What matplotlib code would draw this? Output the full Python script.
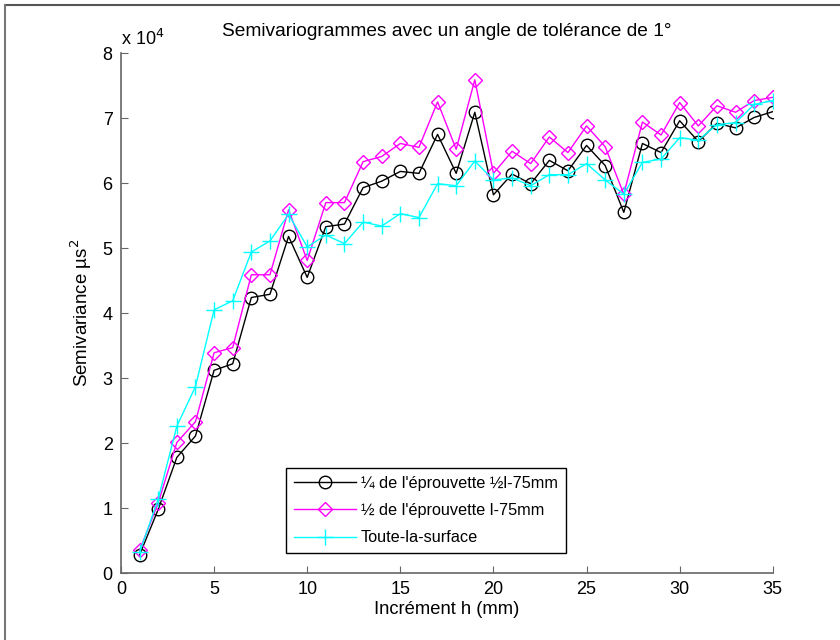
import numpy as np
import matplotlib
matplotlib.use("Agg")
import matplotlib.pyplot as plt
from matplotlib.lines import Line2D

plt.rcParams['font.family'] = ['Liberation Sans', 'DejaVu Sans']

# lag h (mm)
h = np.arange(1, 36)

# semivariance, in units of 1e4
quart = [0.28, 0.98, 1.78, 2.11, 3.12, 3.22, 4.24, 4.29, 5.18, 4.55,
         5.33, 5.37, 5.93, 6.03, 6.18, 6.15, 6.75, 6.15, 7.09, 5.82,
         6.14, 5.99, 6.35, 6.19, 6.58, 6.27, 5.55, 6.61, 6.47, 6.96,
         6.64, 6.92, 6.85, 7.01, 7.10]
demi = [0.35, 1.08, 2.01, 2.33, 3.39, 3.47, 4.59, 4.59, 5.59, 4.81,
        5.70, 5.70, 6.33, 6.41, 6.61, 6.55, 7.25, 6.52, 7.59, 6.15,
        6.49, 6.30, 6.71, 6.47, 6.88, 6.56, 5.83, 6.94, 6.74, 7.24,
        6.88, 7.19, 7.09, 7.27, 7.32]
surface = [0.32, 1.14, 2.26, 2.87, 4.05, 4.19, 4.94, 5.11, 5.52, 5.02,
           5.20, 5.07, 5.40, 5.34, 5.53, 5.47, 5.99, 5.96, 6.34, 6.05,
           6.08, 5.96, 6.13, 6.13, 6.30, 6.05, 5.83, 6.32, 6.37, 6.70,
           6.66, 6.90, 6.93, 7.21, 7.27]

labels = ["\u00bc de l'\u00e9prouvette \u00bdl-75mm",
          "\u00bd de l'\u00e9prouvette l-75mm",
          "Toute-la-surface"]

fig = plt.figure(figsize=(8.4, 6.4), dpi=100)
ax = fig.add_axes([0.144, 0.1045, 0.776, 0.8125])

ax.plot(h, quart, color='k', lw=1.0, marker='o', ms=9, mfc='none', mew=1.0, label=labels[0])
ax.plot(h, demi, color='#ff00ff', lw=1.0, marker='D', ms=7.5, mfc='none', mew=1.0, label=labels[1])
ax.plot(h, surface, color='#00ffff', lw=1.0, marker='+', ms=11, mew=1.0, label=labels[2])

ax.set_xlim(0, 35)
ax.set_ylim(0, 8)
ax.set_xticks(range(0, 36, 5))
ax.set_yticks(range(0, 9))

for s in ['top', 'right']:
    ax.spines[s].set_visible(False)
for s in ['left', 'bottom']:
    ax.spines[s].set_color('#666666')
    ax.spines[s].set_linewidth(1.2)
ax.tick_params(direction='in', length=5, color='#666666', labelsize=13, pad=6)

ax.set_title("Semivariogrammes avec un angle de tol\u00e9rance de 1\u00b0", fontsize=13.8, pad=12)
ax.set_xlabel("Incr\u00e9ment h (mm)", fontsize=13.2, labelpad=2)
ax.set_ylabel("Semivariance \u00b5s$^2$", fontsize=13.5, labelpad=6)
ax.text(0.0, 1.008, "x 10$^4$", transform=ax.transAxes, fontsize=13, ha='left', va='bottom')

leg = ax.legend(loc='lower left', bbox_to_anchor=(0.253, 0.038), fontsize=11.7,
                fancybox=False, edgecolor='k', framealpha=1, handlelength=3.8,
                borderpad=0.5, labelspacing=0.75, handletextpad=0.3, borderaxespad=0)
leg.get_frame().set_linewidth(1.0)

# figure frame
fig.add_artist(Line2D([0.006, 1.0], [0.992, 0.992], color='#555555', lw=1.5, transform=fig.transFigure))
fig.add_artist(Line2D([0.006, 0.006], [0.0, 0.992], color='#777777', lw=1.5, transform=fig.transFigure))

fig.savefig("out.png", dpi=100)
